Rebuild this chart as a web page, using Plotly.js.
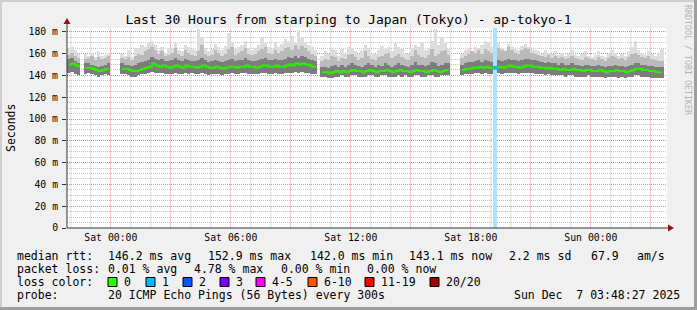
<!DOCTYPE html>
<html><head><meta charset="utf-8">
<script src="https://cdn.plot.ly/plotly-3.0.1.min.js"></script>
<style>html,body{margin:0;padding:0;background:#f0f0f0;}#chart{width:697px;height:310px;}</style>
</head><body><div id="chart"></div>
<script>
// ---------- data ----------
const startTime = Date.UTC(2025, 11, 5, 21, 48, 27);   // left edge of graph
const stepMinutes = 10;
const spanHours = 30;

const medRtt = [150,151,149,147, null,
147,147,146,145,144,145,146,146, null,null,null,
146,146,145,144,144,145,146,147,148,151,
149,148,149,148,147,148,149,148,147,149,
148,148,147,148,149,148,147,147,148,147,
146,147,148,148,147,148,148,149,148,148,
147,148,149,149,148,148,149,148,148,149,
150,149,151,150,151,150,149,148,147,
null,
143,143,142,143,144,143,144,143,144,145,
144,144,143,144,145,144,143,144,144,145,
144,143,144,145,144,144,143,144,145,144,
144,143,144,145,144,143,144,145,145,
null,null,null,
145,146,146,147,147,148,147,148,147,147,
147,148,147,148,149,148,148,147,148,149,
149,148,148,147,147,146,147,146,146,145,
146,145,145,146,145,145,144,145,145,144,
144,145,144,143,144,144,145,144,144,143,
144,145,146,146,145,145,144,144,143,143,
143,
null];

const minRtt = [142,143,141,140, null,
141,142,141,140,139,140,141,140, null,null,null,
141,141,140,139,139,140,141,141,142,143,
142,142,142,141,141,141,142,141,141,142,
141,142,141,141,142,141,140,141,141,141,
140,141,141,142,141,141,142,142,141,141,
141,141,142,142,141,141,142,141,141,142,
142,142,143,142,143,142,142,141,141,
null,
139,139,138,138,139,139,140,139,139,140,
140,139,139,139,140,140,139,139,140,140,
139,139,139,140,139,140,139,139,140,140,
139,139,140,140,139,139,140,140,140,
null,null,null,
140,141,141,141,142,142,141,142,141,141,
141,142,141,142,142,142,142,141,142,142,
142,142,141,141,141,140,141,140,140,140,
140,139,140,140,139,139,139,139,140,139,
139,139,139,138,139,139,139,138,139,138,
139,139,140,140,139,139,139,138,138,138,
138,
null];

const darkTop = [155,156,153,151, null,
151,151,150,149,148,149,150,151, null,null,null,
151,150,150,149,150,151,152,153,154,157,
155,154,155,153,153,154,156,154,153,155,
154,153,153,154,156,154,152,153,154,153,
152,153,154,155,153,154,154,156,154,153,
153,154,155,156,154,154,155,154,154,155,
157,156,158,156,158,157,155,154,153,
null,
148,148,147,149,150,148,150,148,150,151,
150,149,148,150,151,150,148,150,149,151,
150,148,150,151,150,149,148,150,152,150,
150,149,150,152,151,149,150,151,151,
null,null,null,
150,151,152,152,153,154,152,154,153,152,
153,154,153,154,155,154,154,153,154,155,
155,154,154,153,152,151,152,151,151,150,
151,150,150,151,150,150,149,150,150,149,
149,150,149,148,149,149,150,149,149,148,
149,150,151,151,150,150,149,149,148,148,
148,
null];

const midTop = [159,161,158,156, null,
155,156,158,154,157,155,156,158, null,null,null,
156,155,157,154,158,160,159,162,164,166,
163,160,162,158,159,161,165,160,158,163,
161,159,158,162,168,160,158,159,163,161,
158,160,164,166,159,161,162,165,160,159,
160,162,164,166,161,160,163,161,162,165,
166,163,168,164,167,165,162,160,158,
null,
153,155,154,158,157,153,156,155,159,160,
157,154,156,162,158,155,154,157,158,160,
161,156,158,160,157,155,154,158,163,159,
157,156,159,164,158,160,162,163,159,
null,null,null,
156,158,160,162,161,163,160,164,162,161,
164,165,163,162,166,163,161,160,163,165,
164,161,160,159,158,157,159,156,158,156,
157,155,156,158,156,155,154,157,156,155,
154,157,155,153,156,158,157,155,156,154,
157,160,161,159,157,156,158,155,154,153,
153,
null];

const maxRtt = [165,166,163,160, null,
160,158,161,157,162,158,159,161, null,null,null,
160,158,163,157,165,164,168,166,170,172,
168,163,166,161,165,164,170,163,162,168,
166,164,163,183,175,165,162,164,169,166,
163,167,179,171,164,166,168,172,165,163,
165,168,174,170,166,164,171,166,169,173,
172,176,170,182,174,171,168,166,163,
null,
158,162,160,165,163,158,164,160,166,165,
162,160,163,168,165,161,160,163,167,164,
166,162,170,166,164,161,160,165,168,166,
171,163,165,172,183,168,175,170,164,
null,null,null,
160,163,165,162,166,164,168,172,171,166,
168,170,165,163,169,166,164,163,167,169,
166,164,163,162,160,163,161,160,162,159,
161,158,160,163,159,158,160,162,158,157,
159,162,158,157,160,163,161,158,160,158,
162,166,172,163,161,159,162,160,158,161,
164,
null];

const lossBins = [128];
const lossCounts = [1];

const yTickVals = [0,20,40,60,80,100,120,140,160,180];
const yTickText = ['0','20 m','40 m','60 m','80 m','100 m','120 m','140 m','160 m','180 m'];
const xTickVals = ['2025-12-06 00:00','2025-12-06 03:00','2025-12-06 06:00','2025-12-06 09:00','2025-12-06 12:00',
                   '2025-12-06 15:00','2025-12-06 18:00','2025-12-06 21:00','2025-12-07 00:00','2025-12-07 03:00'];
const xTickText = ['Sat 00:00','','Sat 06:00','','Sat 12:00','','Sat 18:00','','Sun 00:00',''];
const hourGridVals = ['2025-12-05 22:00','2025-12-05 23:00','2025-12-06 01:00','2025-12-06 02:00',
  '2025-12-06 04:00','2025-12-06 05:00','2025-12-06 07:00','2025-12-06 08:00','2025-12-06 10:00',
  '2025-12-06 11:00','2025-12-06 13:00','2025-12-06 14:00','2025-12-06 16:00','2025-12-06 17:00',
  '2025-12-06 19:00','2025-12-06 20:00','2025-12-06 22:00','2025-12-06 23:00','2025-12-07 01:00',
  '2025-12-07 02:00'];

const lossLabels = ['0','1','2','3','4-5','6-10','11-19','20/20'];
const lossColors = ['#26ff00','#00b8ff','#0059ff','#7f00ff','#ff00ff','#ff5500','#ff0000','#a10000'];

const titleText = 'Last 30 Hours from starping to Japan (Tokyo) - ap-tokyo-1';
const rttStats = ['146.2 ms avg','152.9 ms max','142.0 ms min','143.1 ms now','2.2 ms sd','67.9','am/s'];
const lossStats = ['0.01 % avg','4.78 % max','0.00 % min','0.00 % now'];
const probeText = '20 ICMP Echo Pings (56 Bytes) every 300s';
const stampText = 'Sun Dec  7 03:48:27 2025';

// ---------- build ----------
const stepMs = stepMinutes * 60000;
const endTime = startTime + spanHours * 3600000;
const yTop = 183.5;
const binTimes = medRtt.map((_, i) => startTime + (i + 0.5) * stepMs);
const band = (lo, hi) => hi.map((v, i) => (v == null || lo[i] == null) ? null : v - lo[i]);

const L = 67, T = 28, W = 600, H = 200;
const px = x => (x - L) / W;
const py = y => (T + H - y) / H;
const nb = s => s.replace(/ /g, '\u00a0');
const MONO = 'DejaVu Sans Mono';

const traces = [
  {type:'bar', x:binTimes, base:minRtt, y:band(minRtt, maxRtt), width:stepMs,
   marker:{color:'#dddddd', line:{width:0}}},
  {type:'bar', x:binTimes, base:minRtt, y:band(minRtt, midTop), width:stepMs,
   marker:{color:'#bababa', line:{width:0}}},
  {type:'bar', x:binTimes, base:minRtt, y:band(minRtt, darkTop), width:stepMs,
   marker:{color:'#7c7c7c', line:{width:0}}},
  {type:'bar', x:lossBins.map(b => binTimes[b]), base:lossBins.map(() => 0), y:lossBins.map(() => yTop),
   width:stepMs * 1.2, marker:{color:'#aee4f8', line:{width:0}}},
  {type:'scatter', mode:'lines', x:binTimes, y:medRtt, connectgaps:false,
   line:{color:'#2af000', width:2, shape:'hv'}},
  {type:'scatter', mode:'markers', x:lossBins.map(b => binTimes[b]), y:lossBins.map(b => medRtt[b]),
   marker:{symbol:'square', size:4, color:lossColors[1], line:{width:0}}}
];

const shapes = [];
const annotations = [];
// hourly minor grid (x axis scale)
hourGridVals.forEach(t => shapes.push({type:'line', xref:'x', yref:'paper', x0:t, x1:t, y0:0, y1:1,
  layer:'below', line:{color:'rgba(120,120,120,0.25)', width:1}}));
// frame
shapes.push({type:'rect', xref:'paper', yref:'paper', x0:px(0), x1:px(697), y0:py(0), y1:py(2), fillcolor:'#cfcfcf', line:{width:0}});
shapes.push({type:'rect', xref:'paper', yref:'paper', x0:px(0), x1:px(2), y0:py(0), y1:py(310), fillcolor:'#cfcfcf', line:{width:0}});
shapes.push({type:'rect', xref:'paper', yref:'paper', x0:px(0), x1:px(697), y0:py(307), y1:py(310), fillcolor:'#9e9e9e', line:{width:0}});
shapes.push({type:'rect', xref:'paper', yref:'paper', x0:px(694), x1:px(697), y0:py(0), y1:py(310), fillcolor:'#9e9e9e', line:{width:0}});
// axes + arrows
shapes.push({type:'line', xref:'paper', yref:'paper', x0:0, x1:0, y0:0, y1:py(24), line:{color:'#333', width:1}});
shapes.push({type:'line', xref:'paper', yref:'paper', x0:0, x1:px(668), y0:0, y1:0, line:{color:'#333', width:1}});
shapes.push({type:'path', xref:'paper', yref:'paper',
  path:`M ${px(63.5)} ${py(24)} L ${px(70.5)} ${py(24)} L ${px(67)} ${py(18)} Z`, fillcolor:'#8b1515', line:{width:0}});
shapes.push({type:'path', xref:'paper', yref:'paper',
  path:`M ${px(668)} ${py(224.5)} L ${px(668)} ${py(231.5)} L ${px(674)} ${py(228)} Z`, fillcolor:'#8b1515', line:{width:0}});

const txt = (text, x, y, opts = {}) => annotations.push(Object.assign({
  text: nb(text), xref:'paper', yref:'paper', x:px(x), y:py(y), xanchor:'left', yanchor:'middle',
  showarrow:false, font:{family:MONO, size:11.5, color:'#000'}, borderpad:0
}, opts));

// legend rows
txt('median rtt:', 16, 256);
[107, 207, 309, 408, 508, 590, 636].forEach((x, i) => txt(rttStats[i], x, 256));
txt('packet loss:', 16, 269);
[107, 193, 280, 366].forEach((x, i) => txt(lossStats[i], x, 269));
txt('loss color:', 16, 282);
const boxX = [108, 146, 183, 220, 256, 308, 365, 430];
lossLabels.forEach((lab, i) => {
  shapes.push({type:'rect', xref:'paper', yref:'paper', x0:px(boxX[i]), x1:px(boxX[i] + 9),
    y0:py(277.5), y1:py(286.5), fillcolor:lossColors[i], line:{color:'#000', width:1}});
  txt(lab, boxX[i] + 15, 282);
});
txt('probe:', 16, 295);
txt(probeText, 107, 295);
txt(stampText, 513, 295);
// y title
annotations.push({text:'Seconds', xref:'paper', yref:'paper', x:px(11), y:py(128), textangle:-90,
  xanchor:'center', yanchor:'middle', showarrow:false, font:{family:MONO, size:11.5, color:'#000'}});
// watermark
annotations.push({text:nb('RRDTOOL / TOBI OETIKER'), xref:'paper', yref:'paper', x:px(688), y:py(60), textangle:90,
  xanchor:'center', yanchor:'middle', showarrow:false, font:{family:MONO, size:8.3, color:'#b4b4b4'}});

const majorGrid = 'rgba(225,95,95,0.5)';
const minorGrid = 'rgba(140,140,140,0.5)';

const layout = {
  width:697, height:310,
  margin:{l:L, r:697 - L - W, t:T, b:310 - T - H, pad:0},
  paper_bgcolor:'#f0f0f0', plot_bgcolor:'#ffffff',
  showlegend:false, barmode:'overlay', bargap:0,
  font:{family:MONO, color:'#000'},
  title:{text:titleText, font:{family:MONO, size:13, color:'#000'}, x:0.5, xanchor:'center',
         y:1 - 19/310, yanchor:'middle', yref:'container'},
  xaxis:{type:'date', range:[startTime, endTime], tickmode:'array', tickvals:xTickVals, ticktext:xTickText,
         showgrid:true, gridcolor:'rgba(225,110,110,0.38)', gridwidth:1,
         ticks:'', showline:false, zeroline:false, tickfont:{family:MONO, size:9.8, color:'#000'},
         ticklabelstandoff:2, fixedrange:true},
  yaxis:{range:[0, yTop], tickmode:'array', tickvals:yTickVals, ticktext:yTickText,
         showgrid:true, gridcolor:majorGrid, griddash:'1px,1px', gridwidth:1,
         minor:{dtick:5, tick0:0, showgrid:true, gridcolor:minorGrid, griddash:'1px,1px', gridwidth:1},
         ticks:'outside', ticklen:4, tickcolor:'#333', showline:false, zeroline:false,
         tickfont:{family:MONO, size:9.8, color:'#000'}, ticklabelstandoff:2, fixedrange:true},
  shapes, annotations
};

Plotly.newPlot('chart', traces, layout, {staticPlot:true, displayModeBar:false});
</script></body></html>
